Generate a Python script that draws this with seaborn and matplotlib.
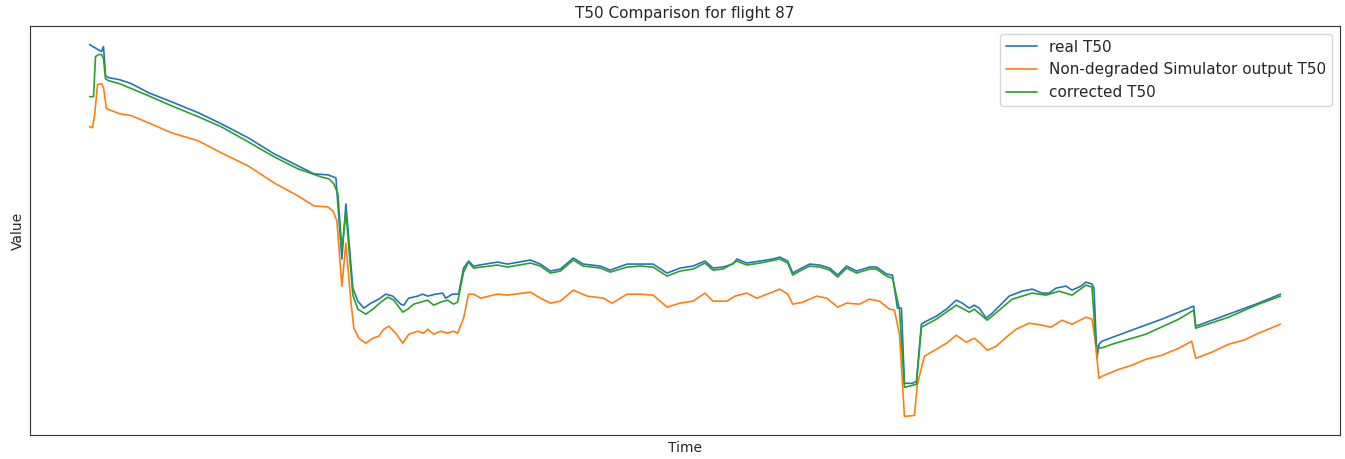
import matplotlib.pyplot as plt
import pandas as pd
import seaborn as sns

# =====================================================
# DATA (arbitrary value units)
# =====================================================

real_time = [
    88, 100, 102, 104, 107, 118, 130, 147, 170, 197, 220, 247, 273, 297,
    313, 327, 335, 341, 345, 352, 357, 363, 370, 378, 385, 392, 400, 403,
    408, 417, 422, 427, 435, 442, 445, 452, 458, 463, 468, 473, 497, 507,
    530, 540, 550, 560, 573, 583, 600, 610, 627, 640, 653, 667, 680, 693,
    705, 713, 723, 733, 737, 747, 760, 773, 780, 788, 793, 800, 810, 820,
    830, 838, 847, 857, 870, 877, 887, 893, 898, 902, 905, 913, 917, 922,
    927, 937, 947, 957, 963, 970, 975, 980, 987, 993, 1000, 1010, 1023,
    1033, 1043, 1050, 1057, 1067, 1073, 1082, 1087, 1093, 1095, 1098, 1100,
    1103, 1130, 1163, 1195, 1197, 1230, 1260, 1282
]
real_t50 = [
    416, 409, 414, 385, 383, 381, 377, 368, 359, 348, 337, 323, 307, 295,
    287, 286, 283, 202, 257, 173, 160, 153, 158, 162, 167, 165, 157, 156,
    163, 165, 167, 165, 167, 168, 163, 167, 167, 193, 200, 195, 199, 197,
    201, 197, 190, 192, 203, 197, 195, 191, 197, 197, 197, 188, 193, 195,
    200, 193, 194, 197, 202, 198, 200, 202, 204, 200, 188, 192, 197, 196,
    193, 186, 195, 190, 194, 194, 187, 186, 153, 153, 78, 78, 80, 137,
    140, 145, 152, 161, 158, 153, 156, 153, 143, 148, 155, 165, 170,
    172, 168, 168, 173, 175, 171, 175, 179, 177, 173, 103, 117,
    120, 130, 142, 155, 135, 147, 158, 167
]

sim_time = [
    88, 91, 93, 96, 100, 102, 105, 118, 130, 147, 170, 197, 220, 247, 273,
    297, 313, 327, 332, 336, 341, 345, 350, 353, 358, 365, 372, 378, 383,
    388, 395, 402, 408, 417, 423, 427, 433, 440, 447, 453, 457, 463, 468,
    473, 480, 497, 507, 530, 540, 550, 560, 573, 587, 603, 612, 627, 640,
    653, 667, 680, 693, 705, 713, 727, 735, 747, 757, 770, 780, 788, 793,
    803, 817, 827, 838, 847, 860, 870, 880, 890, 895, 900, 905, 915, 918,
    925, 937, 947, 957, 967, 975, 980, 988, 997, 1007, 1017, 1030, 1043,
    1052, 1063, 1073, 1087, 1093, 1096, 1100, 1103, 1120, 1133, 1147, 1163,
    1180, 1193, 1197, 1213, 1230, 1245, 1260, 1282
]
sim_t50 = [
    334, 333, 345, 376, 377, 373, 352, 347, 345, 338, 328, 320, 308, 295,
    278, 265, 255, 254, 250, 240, 175, 218, 160, 133, 123, 118, 123, 125,
    132, 135, 128, 118, 127, 130, 128, 132, 127, 130, 128, 130, 128, 143,
    167, 167, 163, 167, 166, 169, 163, 158, 160, 171, 165, 163, 158, 167,
    167, 166, 154, 158, 160, 168, 160, 160, 165, 168, 163, 168, 172, 167,
    157, 159, 165, 163, 154, 158, 157, 162, 160, 152, 151, 127, 45, 46, 77,
    105, 112, 118, 126, 119, 123, 119, 111, 115, 124, 132, 138, 136,
    134, 141, 137, 144, 142, 123, 83, 85, 92, 96, 102, 106,
    113, 120, 103, 109, 117, 121, 128, 137
]

corr_time = [
    88, 92, 94, 97, 100, 102, 104, 107, 118, 147, 170, 197, 220, 247, 273,
    297, 320, 328, 333, 337, 341, 345, 352, 357, 365, 372, 380, 387, 393,
    402, 407, 413, 420, 427, 433, 440, 447, 453, 457, 463, 468, 473, 497,
    507, 530, 540, 550, 560, 573, 583, 600, 610, 627, 640, 653, 667, 680,
    693, 705, 713, 723, 737, 747, 760, 780, 788, 793, 800, 810, 820, 830,
    838, 847, 857, 870, 877, 887, 893, 900, 905, 913, 917, 922, 937, 957,
    970, 975, 988, 1000, 1013, 1033, 1047, 1060, 1073, 1087, 1093, 1097,
    1102, 1113, 1147, 1180, 1195, 1197, 1230, 1260, 1282
]
corr_t50 = [
    364, 364, 404, 406, 406, 402, 382, 380, 377, 365, 355, 344, 334, 319,
    304, 292, 284, 282, 277, 267, 212, 249, 166, 152, 147, 152, 159, 164,
    161, 149, 152, 157, 159, 161, 156, 159, 161, 157, 159, 189, 199, 193,
    196, 194, 198, 195, 188, 190, 201, 195, 193, 189, 194, 195, 194, 185,
    190, 192, 198, 191, 192, 200, 196, 198, 202, 198, 186, 190, 195, 194,
    191, 184, 193, 188, 192, 192, 185, 183, 152, 74, 76, 77, 134, 142,
    156, 149, 152, 141, 151, 162, 168, 166, 170, 166, 176, 174, 116,
    113, 117, 127, 142, 151, 133, 144, 157, 165
]

df = pd.concat([
    pd.DataFrame({"Time": real_time, "Value": real_t50, "series": "real T50"}),
    pd.DataFrame({"Time": sim_time, "Value": sim_t50,
                  "series": "Non-degraded Simulator output T50"}),
    pd.DataFrame({"Time": corr_time, "Value": corr_t50, "series": "corrected T50"}),
])

# =====================================================
# PLOT
# =====================================================

sns.set_style("white")

fig, ax = plt.subplots(figsize=(13.45, 4.59), dpi=100)

sns.lineplot(data=df, x="Time", y="Value", hue="series", ax=ax,
             palette=["#1f77b4", "#ff7f0e", "#2ca02c"], linewidth=1.2,
             estimator=None, sort=False)

ax.set_xticks([])
ax.set_yticks([])
ax.set_xlabel("Time", fontsize=10)
ax.set_ylabel("Value", fontsize=10)
ax.set_title("T50 Comparison for flight 87", fontsize=11)

for s in ax.spines.values():
    s.set_color("#333333")
    s.set_linewidth(0.8)

handles, labels = ax.get_legend_handles_labels()
ax.legend(handles, labels, loc="upper right", fontsize=11)

fig.subplots_adjust(left=0.0223, right=0.9963, top=0.9434, bottom=0.0523)
fig.savefig("out.png", dpi=100)
